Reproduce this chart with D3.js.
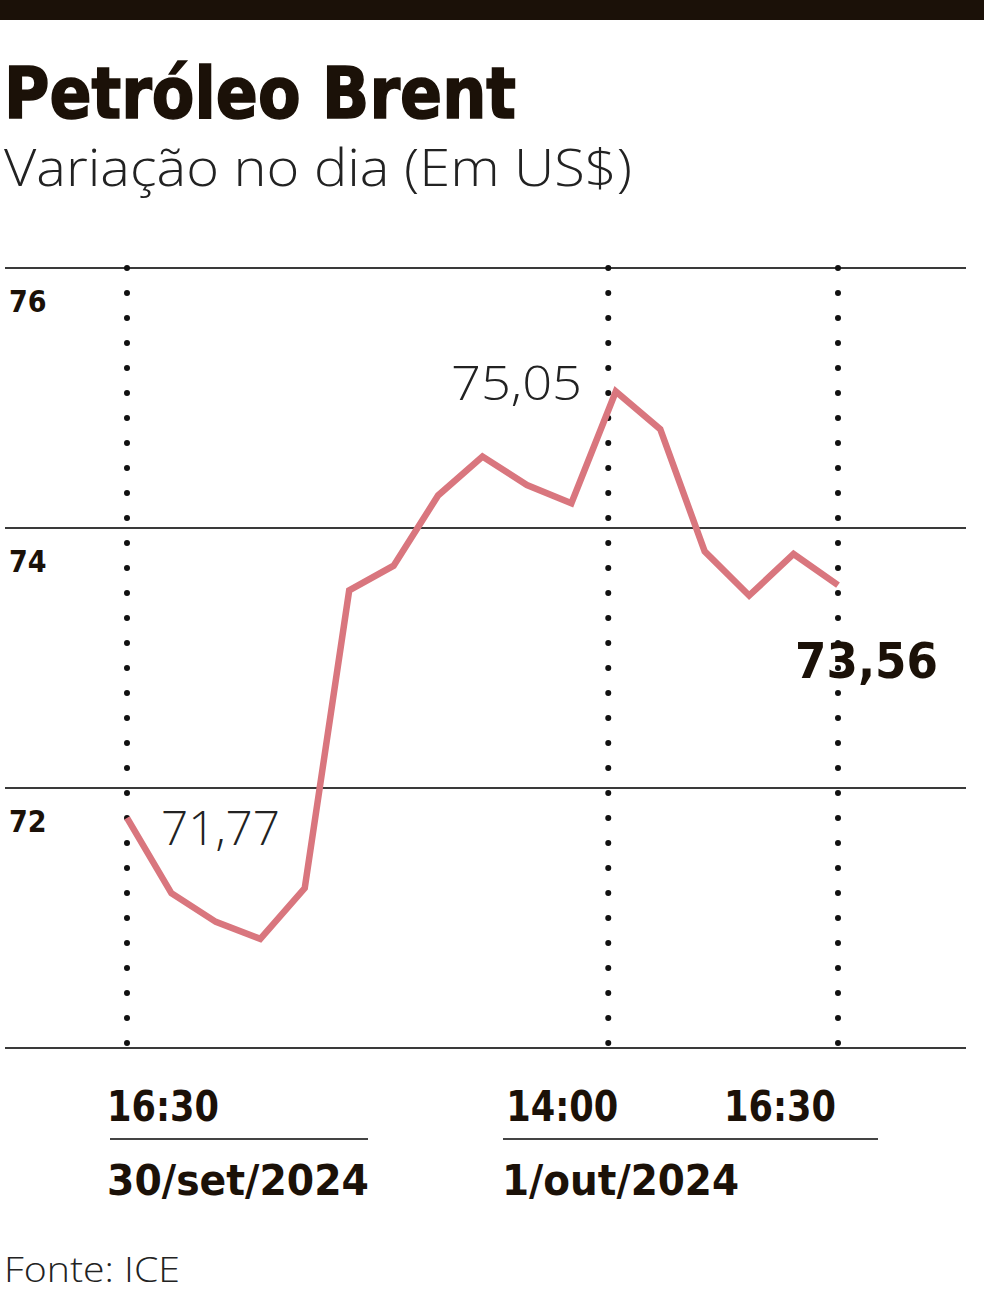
<!DOCTYPE html>
<meta charset="utf-8">
<head>
<title>Petróleo Brent</title>
<style>
  body { margin: 0; background: #fff; }
  svg { display: block; }
  .cond { font-family: "DejaVu Sans Condensed", "Liberation Sans Narrow", sans-serif; }
  .light { font-family: "Open Sans", "Roboto", sans-serif; font-weight: 300; }
</style>
</head>
<body>
<div id="chart"></div>
<script src="https://d3js.org/d3.v7.min.js"></script>
<script>

// data: one point per step, 30/set 16:30 -> 1/out 16:30
var steps  = [0, 1, 2, 3, 4, 5, 6, 7, 8, 9, 10, 11, 12, 13, 14, 15, 16];
var prices = [71.77, 71.19, 70.97, 70.84, 71.23, 73.52, 73.71, 74.25, 74.55, 74.33, 74.19, 75.05, 74.76, 73.82, 73.48, 73.80, 73.56];

var yTicks = [76, 74, 72, 70];
var yLabels = ["76", "74", "72", ""];
var timeSteps = [0, 10.83, 16];
var timeLabels = ["16:30", "14:00", "16:30"];
var dayLabels = ["30/set/2024", "1/out/2024"];

var W = 984, H = 1294;
var svg = d3.select("#chart").append("svg")
    .attr("width", W)
    .attr("height", H);

// scales
var x = d3.scaleLinear().domain([0, 16]).range([127, 838]);
var y = d3.scaleLinear().domain([70, 76]).range([1048, 268]);

// top bar
svg.append("rect")
    .attr("x", 0).attr("y", 0)
    .attr("width", W).attr("height", 20)
    .style("fill", "#1b1108");

// title
svg.append("text")
    .attr("class", "cond")
    .attr("x", 4).attr("y", 118)
    .attr("textLength", 512)
    .attr("lengthAdjust", "spacingAndGlyphs")
    .style("font-weight", "bold")
    .style("font-size", "72px")
    .style("fill", "#1b1108")
    .style("stroke", "#1b1108")
    .style("stroke-width", 1.5)
    .text("Petróleo Brent");

svg.append("text")
    .attr("class", "light")
    .attr("x", 4).attr("y", 186)
    .attr("textLength", 628)
    .attr("lengthAdjust", "spacingAndGlyphs")
    .style("font-size", "52px")
    .style("fill", "#222")
    .text("Variação no dia (Em US$)");

// horizontal grid
svg.selectAll(".grid")
    .data(yTicks)
    .enter()
    .append("line")
    .attr("class", "grid")
    .attr("x1", 5).attr("x2", 966)
    .attr("y1", function(d) { return y(d); })
    .attr("y2", function(d) { return y(d); })
    .style("stroke", "#3a3a3a")
    .style("stroke-width", 2);

svg.selectAll(".ylab")
    .data(yTicks)
    .enter()
    .append("text")
    .attr("class", "ylab cond")
    .attr("x", 9)
    .attr("y", function(d) { return y(d) + 44; })
    .style("font-weight", "bold")
    .style("font-size", "30px")
    .style("fill", "#1b1108")
    .text(function(d, i) { return yLabels[i]; });

// dotted verticals
svg.selectAll(".vdot")
    .data(timeSteps)
    .enter()
    .append("line")
    .attr("class", "vdot")
    .attr("x1", function(d) { return x(d); })
    .attr("x2", function(d) { return x(d); })
    .attr("y1", y(76))
    .attr("y2", 1045)
    .style("stroke", "#111")
    .style("stroke-width", 6)
    .style("stroke-linecap", "round")
    .style("stroke-dasharray", "0,25");

// price line
var line = d3.line()
    .x(function(d, i) { return x(steps[i]); })
    .y(function(d) { return y(d); });

svg.append("path")
    .datum(prices)
    .attr("d", line)
    .style("fill", "none")
    .style("stroke", "#d9767e")
    .style("stroke-width", 6.5)
    .style("stroke-linejoin", "miter");

// annotations
svg.append("text")
    .attr("class", "light")
    .attr("x", 161).attr("y", 845)
    .attr("textLength", 119)
    .attr("lengthAdjust", "spacingAndGlyphs")
    .style("font-size", "48px")
    .style("fill", "#222")
    .text("71,77");

svg.append("text")
    .attr("class", "light")
    .attr("x", 451).attr("y", 400)
    .attr("textLength", 131)
    .attr("lengthAdjust", "spacingAndGlyphs")
    .style("font-size", "48px")
    .style("fill", "#222")
    .text("75,05");

svg.append("text")
    .attr("class", "cond")
    .attr("x", 795).attr("y", 678)
    .attr("textLength", 143)
    .attr("lengthAdjust", "spacingAndGlyphs")
    .style("font-weight", "bold")
    .style("font-size", "50px")
    .style("fill", "#1b1108")
    .text("73,56");

// time labels: first starts left of its line, the others end at theirs
var tAnchor = ["start", "end", "end"];
var tShift = [-20, 10, -2];
svg.selectAll(".tlab")
    .data(timeSteps)
    .enter()
    .append("text")
    .attr("class", "tlab cond")
    .attr("x", function(d, i) { return x(d) + tShift[i]; })
    .attr("y", 1121)
    .attr("text-anchor", function(d, i) { return tAnchor[i]; })
    .attr("textLength", 112)
    .attr("lengthAdjust", "spacingAndGlyphs")
    .style("font-weight", "bold")
    .style("font-size", "42px")
    .style("fill", "#1b1108")
    .text(function(d, i) { return timeLabels[i]; });

// day underlines
svg.append("line")
    .attr("x1", 110).attr("x2", 368)
    .attr("y1", 1139).attr("y2", 1139)
    .style("stroke", "#444").style("stroke-width", 2);
svg.append("line")
    .attr("x1", 503).attr("x2", 878)
    .attr("y1", 1139).attr("y2", 1139)
    .style("stroke", "#444").style("stroke-width", 2);

svg.append("text")
    .attr("class", "cond")
    .attr("x", 107).attr("y", 1195)
    .attr("textLength", 262)
    .attr("lengthAdjust", "spacingAndGlyphs")
    .style("font-weight", "bold")
    .style("font-size", "42px")
    .style("fill", "#1b1108")
    .text(dayLabels[0]);

svg.append("text")
    .attr("class", "cond")
    .attr("x", 502).attr("y", 1195)
    .attr("textLength", 237)
    .attr("lengthAdjust", "spacingAndGlyphs")
    .style("font-weight", "bold")
    .style("font-size", "42px")
    .style("fill", "#1b1108")
    .text(dayLabels[1]);

// source
svg.append("text")
    .attr("class", "light")
    .attr("x", 4).attr("y", 1282)
    .attr("textLength", 176)
    .attr("lengthAdjust", "spacingAndGlyphs")
    .style("font-size", "34px")
    .style("fill", "#222")
    .text("Fonte: ICE");

</script>
</body>
